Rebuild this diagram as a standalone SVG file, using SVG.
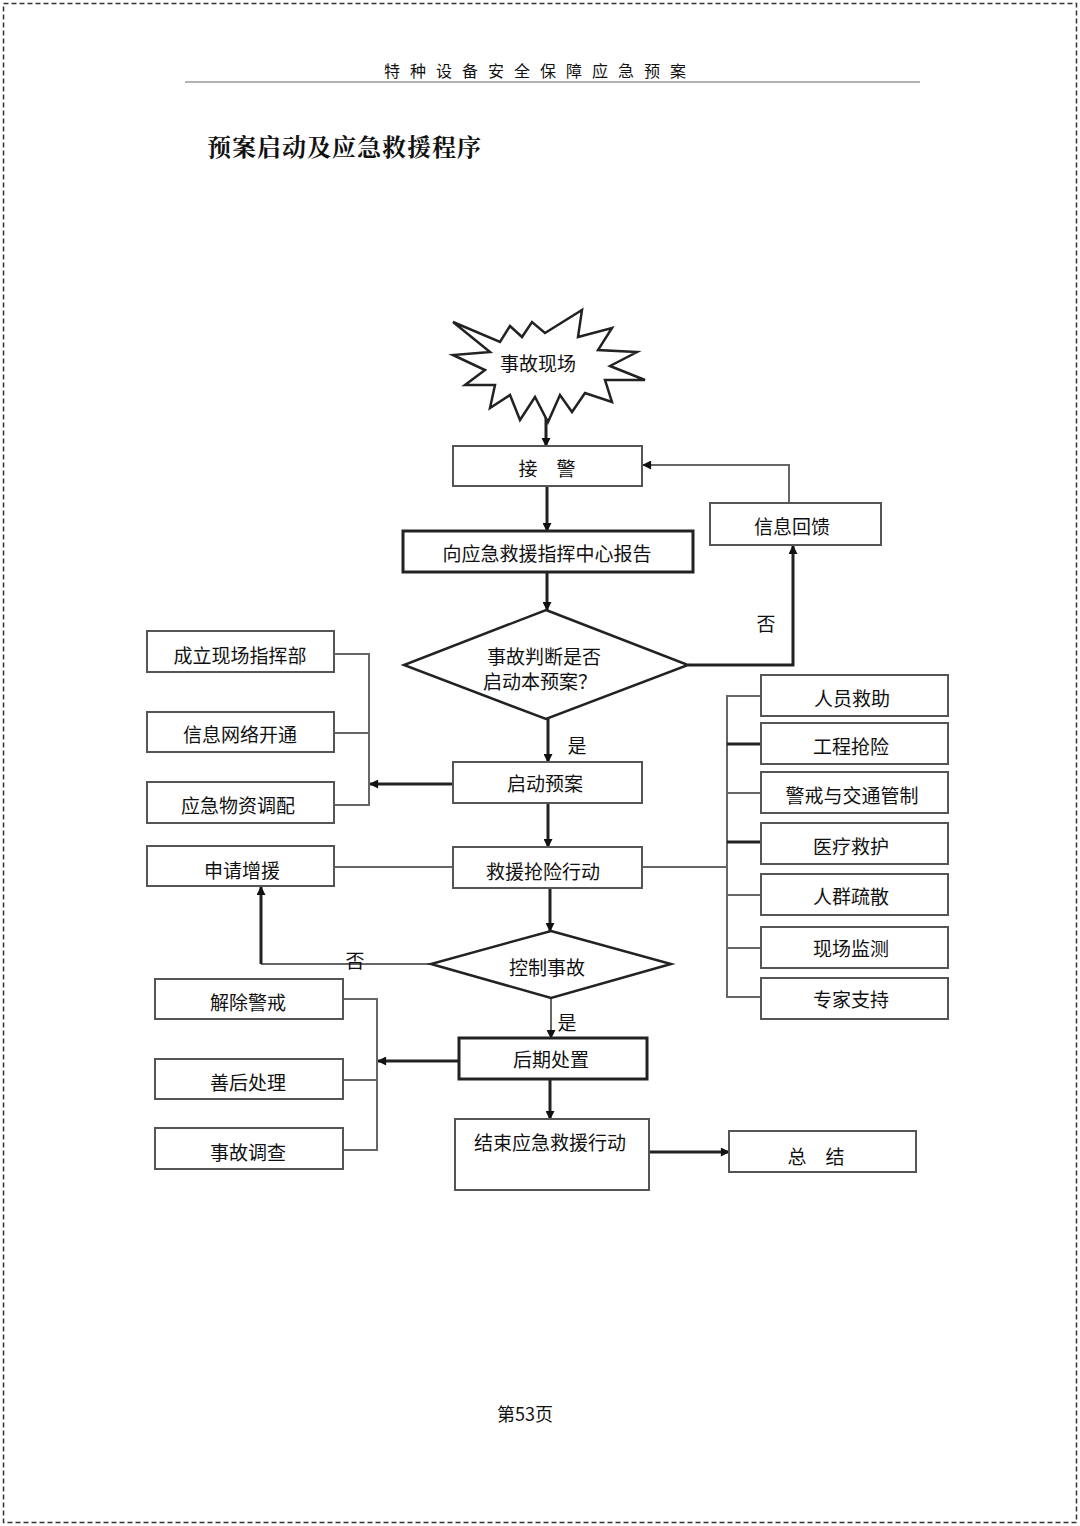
<svg xmlns="http://www.w3.org/2000/svg" width="1080" height="1526" viewBox="0 0 1080 1526">
<defs>
<marker id="ah" viewBox="0 0 10 10" refX="9" refY="5" markerWidth="11" markerHeight="9" orient="auto" markerUnits="userSpaceOnUse">
<path d="M0,0 L10,5 L0,10 z" fill="#111"/>
</marker>
<style>
.box{fill:#fff;stroke:#555;stroke-width:2}
.boxd{fill:#fff;stroke:#222;stroke-width:3}
.t{font-family:"Noto Sans CJK SC","Noto Sans",sans-serif;font-size:19px;fill:#111;text-anchor:middle;dominant-baseline:central}
.ln{fill:none;stroke:#666;stroke-width:2}
.lk{fill:none;stroke:#222;stroke-width:3}
.ar{fill:none;stroke:#222;stroke-width:3;marker-end:url(#ah)}
</style>
</defs>
<rect width="1080" height="1526" fill="#fff"/>
<rect x="3.5" y="3.5" width="1073" height="1519" fill="none" stroke="#333" stroke-width="1.5" stroke-dasharray="5,3"/>
<text x="540" y="70" font-family="Noto Sans CJK SC,sans-serif" font-size="16" fill="#111" text-anchor="middle" dominant-baseline="central" letter-spacing="10">特种设备安全保障应急预案</text>
<line x1="185" y1="82" x2="920" y2="82" stroke="#999" stroke-width="1.5"/>
<text x="207" y="145" font-family="Noto Serif CJK SC,Noto Sans CJK SC,serif" font-size="24" font-weight="bold" fill="#111" dominant-baseline="central" letter-spacing="1">预案启动及应急救援程序</text>

<g id="connectors">
<line class="ar" x1="546" y1="392" x2="546" y2="446"/>
<line class="ar" x1="547" y1="486" x2="547" y2="531"/>
<polyline class="ln" points="789,503 789,465 643,465" marker-end="url(#ah)"/>
<line class="ar" x1="547" y1="572" x2="547" y2="610"/>
<polyline class="lk" points="688,665 793,665 793,546" marker-end="url(#ah)"/>
<line class="ar" x1="548" y1="719" x2="548" y2="762"/>
<line class="ar" x1="453" y1="784" x2="370" y2="784"/>
<polyline class="ln" points="334,654 369,654 369,805 334,805"/>
<line class="ln" x1="334" y1="733" x2="369" y2="733"/>
<line class="ar" x1="548" y1="803" x2="548" y2="847"/>
<line class="ln" x1="334" y1="867" x2="453" y2="867"/>
<line class="ln" x1="642" y1="867" x2="727" y2="867"/>
<polyline class="ln" points="761,696 727,696 727,997 761,997"/>
<line class="lk" x1="727" y1="744" x2="761" y2="744"/>
<line class="ln" x1="727" y1="793" x2="761" y2="793"/>
<line class="lk" x1="727" y1="842" x2="761" y2="842"/>
<line class="ln" x1="727" y1="895" x2="761" y2="895"/>
<line class="ln" x1="727" y1="948" x2="761" y2="948"/>
<line class="ar" x1="550" y1="888" x2="550" y2="931"/>
<line class="ln" x1="431" y1="964" x2="261" y2="964"/>
<polyline class="lk" points="261,964 261,887" marker-end="url(#ah)"/>
<line class="ln" x1="551" y1="998" x2="551" y2="1038" marker-end="url(#ah)"/>
<line class="ar" x1="459" y1="1061" x2="378" y2="1061"/>
<polyline class="ln" points="343,999 377,999 377,1150 343,1150"/>
<line class="ln" x1="343" y1="1080" x2="377" y2="1080"/>
<line class="ar" x1="550" y1="1079" x2="550" y2="1119"/>
<line class="ar" x1="649" y1="1152" x2="729" y2="1152"/>
<text class="t" x="766" y="622" font-size="18">否</text>
<text class="t" x="577" y="744">是</text>
<text class="t" x="355" y="959" font-size="18">否</text>
<text class="t" x="567" y="1021">是</text>
</g>

<g id="n-scene">
<polygon points="453,322 500,342 510,326 522,337 532,322 545,333 582,310 578,337 612,328 598,350 637,352 610,366 645,380 605,380 612,402 585,393 572,412 560,395 548,422 535,397 520,420 510,395 490,408 495,385 465,385 485,370 453,355 490,352" fill="#fff" stroke="#222" stroke-width="2.5" stroke-linejoin="miter"/>
<text class="t" x="538" y="362">事故现场</text>
</g>
<g id="n-jiejing"><rect class="box" x="453" y="446" width="189" height="40"/><text class="t" x="547" y="467">接　警</text></g>
<g id="n-report"><rect class="boxd" x="403" y="531" width="290" height="41"/><text class="t" x="547" y="552">向应急救援指挥中心报告</text></g>
<g id="n-feedback"><rect class="box" x="710" y="503" width="171" height="42"/><text class="t" x="792" y="525">信息回馈</text></g>
<g id="n-judge"><polygon points="546,610 688,665 546,719 404,665" fill="#fff" stroke="#222" stroke-width="2.5"/>
<text class="t" x="544" y="655" font-size="17">事故判断是否</text><text class="t" x="540" y="680" font-size="17">启动本预案？</text></g>
<g id="n-start"><rect class="box" x="453" y="762" width="189" height="41"/><text class="t" x="545" y="782">启动预案</text></g>
<g id="n-hq"><rect class="box" x="147" y="631" width="187" height="41"/><text class="t" x="240" y="654">成立现场指挥部</text></g>
<g id="n-net"><rect class="box" x="147" y="712" width="187" height="40"/><text class="t" x="240" y="733">信息网络开通</text></g>
<g id="n-supply"><rect class="box" x="147" y="782" width="187" height="41"/><text class="t" x="238" y="804">应急物资调配</text></g>
<g id="n-rescue"><rect class="box" x="453" y="847" width="189" height="41"/><text class="t" x="543" y="870">救援抢险行动</text></g>
<g id="n-reinforce"><rect class="box" x="147" y="846" width="187" height="40"/><text class="t" x="242" y="869">申请增援</text></g>
<g id="n-r1"><rect class="box" x="761" y="675" width="187" height="41"/><text class="t" x="852" y="697">人员救助</text></g>
<g id="n-r2"><rect class="box" x="761" y="723" width="187" height="41"/><text class="t" x="851" y="745">工程抢险</text></g>
<g id="n-r3"><rect class="box" x="761" y="772" width="187" height="41"/><text class="t" x="852" y="794">警戒与交通管制</text></g>
<g id="n-r4"><rect class="box" x="761" y="823" width="187" height="41"/><text class="t" x="851" y="845">医疗救护</text></g>
<g id="n-r5"><rect class="box" x="761" y="874" width="187" height="41"/><text class="t" x="851" y="895">人群疏散</text></g>
<g id="n-r6"><rect class="box" x="761" y="927" width="187" height="41"/><text class="t" x="851" y="947">现场监测</text></g>
<g id="n-r7"><rect class="box" x="761" y="978" width="187" height="41"/><text class="t" x="851" y="998">专家支持</text></g>
<g id="n-control"><polygon points="551,931 671,964 551,998 431,964" fill="#fff" stroke="#222" stroke-width="2.5"/><text class="t" x="547" y="966">控制事故</text></g>
<g id="n-post"><rect class="boxd" x="459" y="1038" width="188" height="41"/><text class="t" x="551" y="1058">后期处置</text></g>
<g id="n-lift"><rect class="box" x="155" y="979" width="188" height="40"/><text class="t" x="248" y="1001">解除警戒</text></g>
<g id="n-after"><rect class="box" x="155" y="1059" width="188" height="40"/><text class="t" x="248" y="1081">善后处理</text></g>
<g id="n-invest"><rect class="box" x="155" y="1128" width="188" height="41"/><text class="t" x="248" y="1151">事故调查</text></g>
<g id="n-end"><rect class="box" x="455" y="1119" width="194" height="71"/><text class="t" x="550" y="1141">结束应急救援行动</text></g>
<g id="n-summary"><rect class="box" x="729" y="1131" width="187" height="41"/><text class="t" x="816" y="1155">总　结</text></g>
<text x="525" y="1413" font-family="Noto Sans CJK SC,sans-serif" font-size="18" fill="#111" text-anchor="middle" dominant-baseline="central">第53页</text>
</svg>
